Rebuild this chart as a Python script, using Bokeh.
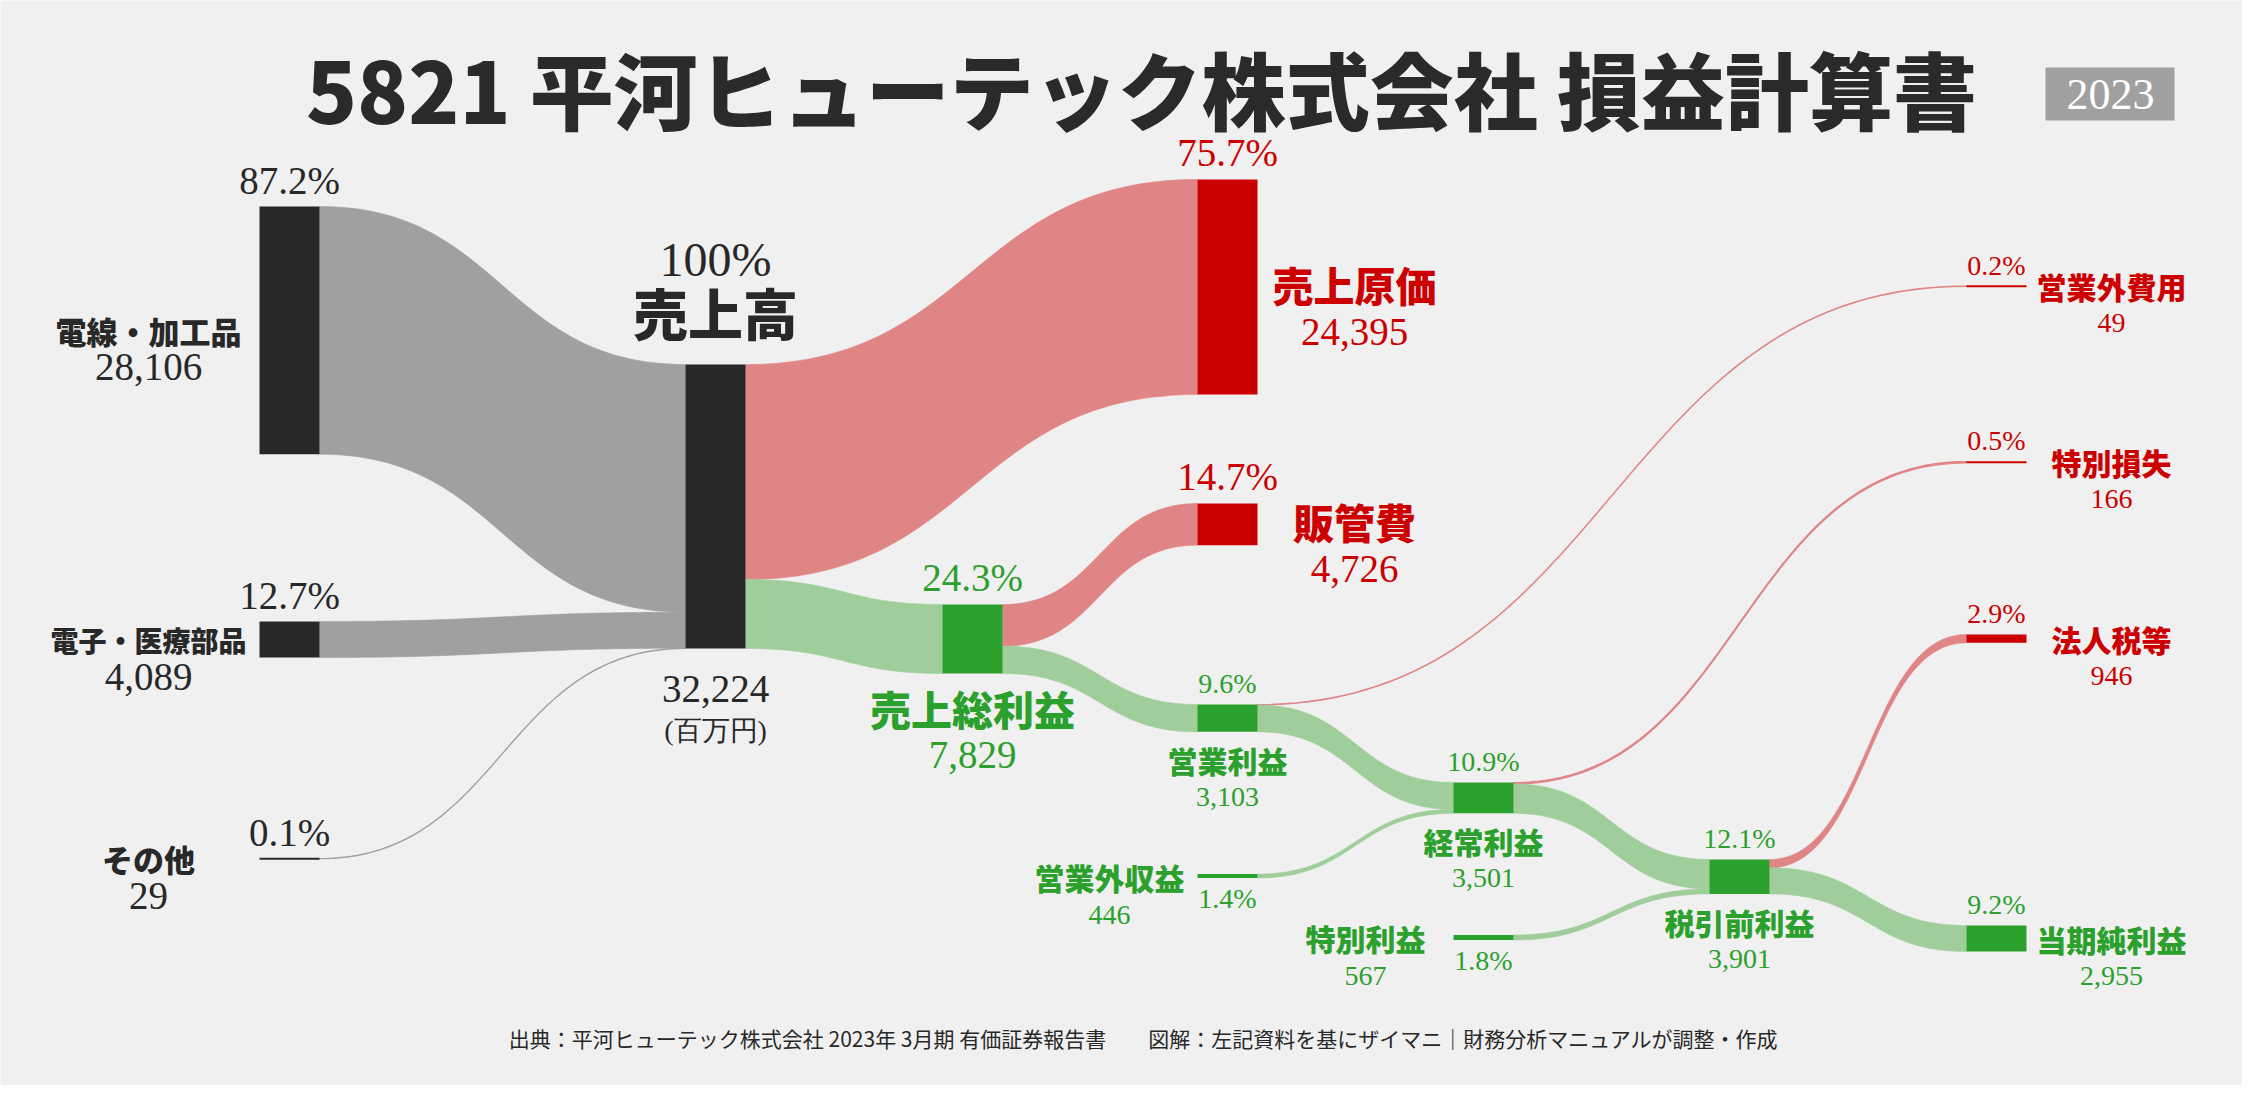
import numpy as np
from bokeh.plotting import figure
from bokeh.models import Range1d
from bokeh.core.properties import value
from bokeh.embed import file_html
from bokeh.resources import INLINE

# ---------------- data (百万円) ----------------
segment_names = ["電線・加工品", "電子・医療部品", "その他"]
segment_values = [28106, 4089, 29]
revenue = 32224
cost_of_sales = 24395
sga = 4726
gross_profit = 7829
operating_income = 3103
non_op_income = 446
non_op_expense = 49
ordinary_income = 3501
special_gain = 567
special_loss = 166
pretax_income = 3901
income_tax = 946
net_income = 2955

title_text = "5821 平河ヒューテック株式会社 損益計算書"
year_text = "2023"
unit_text = "(百万円)"
source_text = ("出典：平河ヒューテック株式会社 2023年 3月期 有価証券報告書　　"
               "図解：左記資料を基にザイマニ｜財務分析マニュアルが調整・作成")

# node: name -> (value, kind)
node_values = {
    segment_names[0]: (segment_values[0], "dark"),
    segment_names[1]: (segment_values[1], "dark"),
    segment_names[2]: (segment_values[2], "dark"),
    "売上高": (revenue, "dark"),
    "売上原価": (cost_of_sales, "red"),
    "販管費": (sga, "red"),
    "売上総利益": (gross_profit, "green"),
    "営業利益": (operating_income, "green"),
    "営業外収益": (non_op_income, "green"),
    "営業外費用": (non_op_expense, "red"),
    "経常利益": (ordinary_income, "green"),
    "特別利益": (special_gain, "green"),
    "特別損失": (special_loss, "red"),
    "税引前利益": (pretax_income, "green"),
    "法人税等": (income_tax, "red"),
    "当期純利益": (net_income, "green"),
}

flows = [
    (segment_names[0], "売上高", segment_values[0]),
    (segment_names[1], "売上高", segment_values[1]),
    (segment_names[2], "売上高", segment_values[2]),
    ("売上高", "売上原価", cost_of_sales),
    ("売上高", "売上総利益", gross_profit),
    ("売上総利益", "販管費", sga),
    ("売上総利益", "営業利益", operating_income),
    ("営業利益", "営業外費用", non_op_expense),
    ("営業利益", "経常利益", operating_income - non_op_expense),
    ("営業外収益", "経常利益", non_op_income),
    ("経常利益", "特別損失", special_loss),
    ("経常利益", "税引前利益", ordinary_income - special_loss),
    ("特別利益", "税引前利益", special_gain),
    ("税引前利益", "法人税等", income_tax),
    ("税引前利益", "当期純利益", net_income),
]

# ---------------- layout (pixels) ----------------
W, H = 2242, 1085
col_x = [259, 685, 942, 1197, 1453, 1709, 1966]
node_w = 60
px_per_unit = 284.0 / revenue
layout = {
    segment_names[0]: (0, 206, "left"),
    segment_names[1]: (0, 621, "left"),
    segment_names[2]: (0, 858, "left"),
    "売上高": (1, 364, "revenue"),
    "売上原価": (3, 179, "right_big"),
    "販管費": (3, 503, "right_big"),
    "売上総利益": (2, 604, "below_big"),
    "営業利益": (3, 704, "below"),
    "営業外収益": (3, 873.5, "left_small"),
    "経常利益": (4, 782, "below"),
    "特別利益": (4, 934.5, "left_small"),
    "税引前利益": (5, 859, "below"),
    "営業外費用": (6, 285.5, "right_small"),
    "特別損失": (6, 461, "right_small"),
    "法人税等": (6, 634, "right_small"),
    "当期純利益": (6, 925, "right_small"),
}
label_size_override = {segment_names[1]: 28}

BG = "#f0f0f0"
DARK = "#282828"
RED = "#cc0000"
GREEN = "#2ca02c"
node_color = {"dark": DARK, "red": RED, "green": GREEN}
link_color = {"dark": "#a0a0a0", "red": "#e08585", "green": "#9fce9b"}
text_color = {"dark": DARK, "red": RED, "green": GREEN}

SERIF = value("Liberation Serif")
SANS = value("Noto Sans CJK JP")
HEAVY = value("Noto Sans CJK JP Black")

p = figure(width=W, height=H, x_range=Range1d(0, W), y_range=Range1d(H, 0),
           output_backend="svg", toolbar_location=None, min_border=0,
           background_fill_color=BG, border_fill_color=BG, outline_line_color=None)
p.axis.visible = False
p.grid.visible = False

# geometry of nodes
geom = {}
for name, (v, kind) in node_values.items():
    col, top, style = layout[name]
    x0 = col_x[col]
    h = v * px_per_unit
    geom[name] = dict(x0=x0, x1=x0 + node_w, top=top, bot=top + h, h=h, kind=kind, style=style, v=v)

# links
out_off = {n: 0.0 for n in geom}
in_off = {n: 0.0 for n in geom}
t = np.linspace(0, 1, 80)


def bez(a, b, c, d):
    return (1 - t) ** 3 * a + 3 * (1 - t) ** 2 * t * b + 3 * (1 - t) * t ** 2 * c + t ** 3 * d


for s, d, v in flows:
    gs, gd = geom[s], geom[d]
    h = v * px_per_unit
    sy0 = gs["top"] + out_off[s]
    dy0 = gd["top"] + in_off[d]
    out_off[s] += h
    in_off[d] += h
    xa, xb = gs["x1"], gd["x0"]
    xm = (xa + xb) / 2
    xt = bez(xa, xm, xm, xb)
    yt = bez(sy0, sy0, dy0, dy0)
    yb = bez(sy0 + h, sy0 + h, dy0 + h, dy0 + h)
    xs = np.concatenate([xt, xt[::-1]])
    ys = np.concatenate([yt, yb[::-1]])
    col = link_color["dark"] if s in segment_names else link_color[gd["kind"]]
    p.patch(xs, ys, fill_color=col, line_color=col, line_width=1.2 if h < 2 else 0.6)

# nodes
for name, g in geom.items():
    c = node_color[g["kind"]]
    hh = max(g["h"], 2.0)
    cy = (g["top"] + g["bot"]) / 2
    p.quad(left=g["x0"], right=g["x1"], top=cy - hh / 2, bottom=cy + hh / 2,
           fill_color=c, line_color=None)


def txt(x, y, s, size, color, font, bold=False, align="center"):
    p.text(x=[x], y=[y], text=[s], text_font=font, text_font_size=f"{size}px",
           text_font_style="bold" if bold else "normal", text_color=color,
           text_align=align, text_baseline="middle")


def pct(v):
    return "100%" if v == revenue else f"{v / revenue * 100:.1f}%"


for name, g in geom.items():
    c = text_color[g["kind"]]
    cx = (g["x0"] + g["x1"]) / 2
    cy = (g["top"] + g["bot"]) / 2
    st = g["style"]
    num = f"{g['v']:,}"
    if st == "left":
        lx = g["x0"] - 111
        txt(lx, cy, name, label_size_override.get(name, 31), c, HEAVY, True)
        txt(lx, cy + 37, num, 39, c, SERIF)
        txt(cx, g["top"] - 26, pct(g["v"]), 39, c, SERIF)
    elif st == "revenue":
        txt(cx, g["top"] - 105, pct(g["v"]), 48, c, SERIF)
        txt(cx, g["top"] - 54, name, 55, c, HEAVY, True)
        txt(cx, g["bot"] + 40, num, 39, c, SERIF)
        txt(cx, g["bot"] + 82, unit_text, 28, c, SERIF)
    elif st == "right_big":
        lx = g["x1"] + 97
        txt(cx, g["top"] - 27, pct(g["v"]), 39, c, SERIF)
        txt(lx, cy - 3, name, 41, c, HEAVY, True)
        txt(lx, cy + 45, num, 39, c, SERIF)
    elif st == "below_big":
        txt(cx, g["top"] - 27, pct(g["v"]), 39, c, SERIF)
        txt(cx, g["bot"] + 35, name, 41, c, HEAVY, True)
        txt(cx, g["bot"] + 82, num, 39, c, SERIF)
    elif st == "below":
        txt(cx, g["top"] - 21, pct(g["v"]), 28, c, SERIF)
        txt(cx, g["bot"] + 28, name, 30, c, HEAVY, True)
        txt(cx, g["bot"] + 65, num, 28, c, SERIF)
    elif st == "left_small":
        lx = g["x0"] - 88
        txt(lx, cy + 1, name, 30, c, HEAVY, True)
        txt(lx, cy + 39, num, 28, c, SERIF)
        txt(cx, cy + 23, pct(g["v"]), 28, c, SERIF)
    elif st == "right_small":
        lx = g["x1"] + 85
        txt(cx, g["top"] - 21, pct(g["v"]), 28, c, SERIF)
        txt(lx, cy, name, 30, c, HEAVY, True)
        txt(lx, cy + 37, num, 28, c, SERIF)

# title, year badge, source
txt(1141, 87, title_text, 84, "#2a2a2a", HEAVY, True)
p.quad(left=2045, right=2174, top=67, bottom=120, fill_color="#a0a0a0", line_color=None)
txt(2110, 94, year_text, 44, "white", SERIF)
txt(1143, 1037, source_text, 21, DARK, SANS)

open("out.html", "w").write(file_html(p, INLINE))
